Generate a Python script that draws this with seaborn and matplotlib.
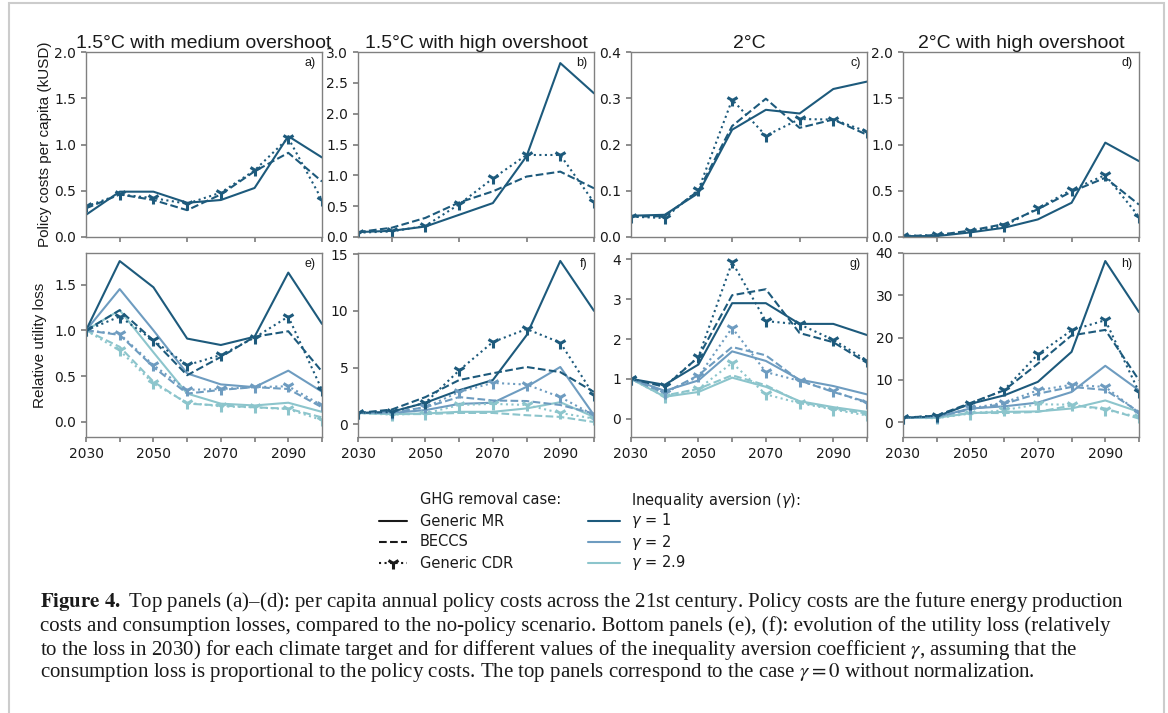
import numpy as np
import pandas as pd
import seaborn as sns
import matplotlib
matplotlib.use("Agg")
import matplotlib.pyplot as plt
from matplotlib.lines import Line2D
from matplotlib.patches import Rectangle

# ---------------- data ----------------
years = [2030, 2040, 2050, 2060, 2070, 2080, 2090, 2100]
cases = ["Generic MR", "BECCS", "Generic CDR"]
gammas = [r"$\gamma$ = 1", r"$\gamma$ = 2", r"$\gamma$ = 2.9"]
titles = ["1.5°C with medium overshoot", "1.5°C with high overshoot", "2°C", "2°C with high overshoot"]
top_tags = ["a)", "b)", "c)", "d)"]
bot_tags = ["e)", "f)", "g)", "h)"]

# top row: policy costs per capita (kUSD), gamma = 0
a_mr = [0.24, 0.49, 0.49, 0.37, 0.40, 0.53, 1.09, 0.86]
a_beccs = [0.31, 0.46, 0.40, 0.29, 0.46, 0.71, 0.91, 0.60]
a_cdr = [0.33, 0.46, 0.42, 0.36, 0.48, 0.72, 1.07, 0.40]

b_mr = [0.08, 0.10, 0.17, 0.36, 0.55, 1.31, 2.82, 2.33]
b_beccs = [0.08, 0.15, 0.31, 0.56, 0.74, 0.98, 1.06, 0.79]
b_cdr = [0.07, 0.09, 0.18, 0.53, 0.95, 1.33, 1.33, 0.56]

c_mr = [0.046, 0.048, 0.095, 0.232, 0.275, 0.267, 0.320, 0.336]
c_beccs = [0.044, 0.045, 0.100, 0.240, 0.299, 0.236, 0.254, 0.221]
c_cdr = [0.044, 0.041, 0.102, 0.297, 0.219, 0.255, 0.254, 0.228]

d_mr = [0.01, 0.01, 0.05, 0.10, 0.19, 0.37, 1.02, 0.82]
d_beccs = [0.01, 0.02, 0.07, 0.14, 0.30, 0.49, 0.64, 0.35]
d_cdr = [0.01, 0.02, 0.06, 0.12, 0.31, 0.51, 0.67, 0.22]

# bottom row: relative utility loss, one list per gamma (1, 2, 2.9)
e_mr = [[1.0, 1.756, 1.47, 0.91, 0.84, 0.93, 1.63, 1.07],
        [1.0, 1.45, 1.00, 0.53, 0.41, 0.38, 0.56, 0.33],
        [1.0, 1.22, 0.76, 0.31, 0.20, 0.18, 0.21, 0.11]]
e_beccs = [[1.0, 1.22, 0.89, 0.51, 0.71, 0.93, 0.99, 0.55],
           [1.0, 0.95, 0.60, 0.31, 0.35, 0.38, 0.36, 0.16],
           [1.0, 0.82, 0.44, 0.20, 0.18, 0.16, 0.145, 0.05]]
e_cdr = [[1.0, 1.15, 0.89, 0.62, 0.73, 0.92, 1.15, 0.35],
         [1.0, 0.96, 0.62, 0.35, 0.36, 0.38, 0.39, 0.18],
         [1.0, 0.78, 0.42, 0.21, 0.17, 0.16, 0.14, 0.02]]

f_mr = [[1.0, 1.1, 1.9, 3.0, 3.9, 7.85, 14.4, 10.0],
        [1.0, 1.0, 1.25, 1.8, 1.9, 3.3, 5.05, 0.8],
        [1.0, 0.9, 0.95, 1.1, 1.1, 1.4, 1.95, 0.65]]
f_beccs = [[1.0, 1.3, 2.4, 3.9, 4.5, 5.05, 4.6, 2.85],
           [1.0, 1.05, 1.5, 2.4, 2.1, 2.05, 1.7, 0.95],
           [1.0, 0.9, 0.9, 1.0, 1.0, 0.8, 0.65, 0.2]]
f_cdr = [[1.0, 1.1, 1.9, 4.75, 7.25, 8.4, 7.2, 2.55],
         [1.0, 1.0, 1.5, 2.85, 3.65, 3.5, 2.4, 0.8],
         [1.0, 0.85, 0.95, 1.7, 1.8, 1.7, 1.0, 0.5]]

g_mr = [[1.0, 0.85, 1.36, 2.9, 2.9, 2.38, 2.38, 2.1],
        [1.0, 0.70, 0.96, 1.69, 1.45, 0.98, 0.82, 0.61],
        [1.0, 0.55, 0.67, 1.03, 0.80, 0.44, 0.29, 0.17]]
g_beccs = [[1.0, 0.80, 1.55, 3.1, 3.25, 2.15, 1.92, 1.4],
           [1.0, 0.65, 1.09, 1.8, 1.59, 0.96, 0.67, 0.42],
           [1.0, 0.58, 0.75, 1.09, 0.84, 0.42, 0.25, 0.13]]
g_cdr = [[1.0, 0.81, 1.55, 3.93, 2.45, 2.37, 1.98, 1.46],
         [1.0, 0.65, 1.06, 2.28, 1.17, 0.95, 0.69, 0.39],
         [1.0, 0.55, 0.75, 1.40, 0.61, 0.39, 0.23, 0.08]]

h_mr = [[1.0, 1.3, 4.3, 6.3, 9.5, 16.6, 38.1, 26.0],
        [1.0, 1.2, 3.2, 3.7, 4.6, 7.1, 13.3, 7.5],
        [1.0, 1.0, 2.1, 2.4, 2.5, 3.2, 5.1, 2.4]]
h_beccs = [[1.0, 1.5, 4.5, 7.5, 13.8, 20.5, 21.8, 9.9],
           [1.0, 1.2, 3.0, 4.3, 6.7, 8.3, 7.6, 2.4],
           [1.0, 1.0, 2.2, 2.1, 2.4, 3.9, 3.2, 0.8]]
h_cdr = [[1.0, 1.5, 4.3, 7.6, 16.0, 21.7, 24.1, 7.1],
         [1.0, 1.2, 3.2, 4.6, 7.5, 8.8, 8.3, 2.2],
         [1.0, 0.9, 2.0, 2.8, 4.2, 4.1, 2.9, 1.2]]

top_data = [(a_mr, a_beccs, a_cdr), (b_mr, b_beccs, b_cdr),
            (c_mr, c_beccs, c_cdr), (d_mr, d_beccs, d_cdr)]
bot_data = [(e_mr, e_beccs, e_cdr), (f_mr, f_beccs, f_cdr),
            (g_mr, g_beccs, g_cdr), (h_mr, h_beccs, h_cdr)]

top_ylims = [(0, 2.0), (0, 3.0), (0, 0.4), (0, 2.0)]
top_yticks = [[0, 0.5, 1.0, 1.5, 2.0], [0, 0.5, 1.0, 1.5, 2.0, 2.5, 3.0],
              [0, 0.1, 0.2, 0.3, 0.4], [0, 0.5, 1.0, 1.5, 2.0]]
bot_ylims = [(-0.164, 1.844), (-1.12, 15.1), (-0.46, 4.16), (-3.55, 40.0)]
bot_yticks = [[0, 0.5, 1.0, 1.5], [0, 5, 10, 15], [0, 1, 2, 3, 4], [0, 10, 20, 30, 40]]
bot_fmt = ["{:.1f}", "{:.0f}", "{:.0f}", "{:.0f}"]

# ---------------- style ----------------
dark, mid, light = "#1d5a7c", "#6e9cc0", "#8cc5cc"
pal = {gammas[0]: dark, gammas[1]: mid, gammas[2]: light}
linestyles = {"Generic MR": "-", "BECCS": "--", "Generic CDR": ":"}
MK, MS, MEW = "1", 9, 2.2

sns.set_theme(style="ticks")
plt.rcParams["font.family"] = ["DejaVu Sans"]
plt.rcParams.update({
    "axes.edgecolor": "#808080",
    "axes.linewidth": 1.0,
    "xtick.color": "#808080",
    "ytick.color": "#808080",
    "xtick.labelcolor": "#1a1a1a",
    "ytick.labelcolor": "#1a1a1a",
    "xtick.labelsize": 10,
    "ytick.labelsize": 10,
    "xtick.major.size": 3.5,
    "ytick.major.size": 3.5,
})

W, H = 1168, 713
fig = plt.figure(figsize=(W / 100, H / 100), dpi=100)
fig.patch.set_facecolor("white")

lefts = [86, 358, 631, 903]
axw = 236
top_row = (52, 237)
bot_row = (253, 437)


def mk_ax(left, row):
    t, b = row
    return fig.add_axes([left / W, 1 - b / H, axw / W, (b - t) / H])


def add_markers(ax, n_before):
    for ln in ax.lines[n_before:]:
        ln.set_marker(MK)
        ln.set_markersize(MS)
        ln.set_markeredgewidth(MEW)
        ln.set_markeredgecolor(ln.get_color())


lw = 1.5
for i in range(4):
    # ---- top panel ----
    ax = mk_ax(lefts[i], top_row)
    for case, vals in zip(cases, top_data[i]):
        df = pd.DataFrame({"year": years, "value": vals})
        n0 = len(ax.lines)
        sns.lineplot(data=df, x="year", y="value", ax=ax, color=dark, lw=lw,
                     errorbar=None, linestyle=linestyles[case])
        if case == "Generic CDR":
            add_markers(ax, n0)
    ax.set_xlim(2030, 2100)
    ax.set_ylim(*top_ylims[i])
    ax.set_yticks(top_yticks[i])
    ax.set_yticklabels(["{:.1f}".format(v) for v in top_yticks[i]])
    ax.set_xticks([2040, 2060, 2080, 2100])
    ax.set_xticklabels([])
    ax.set_xlabel("")
    ax.set_ylabel("")
    ax.set_title(titles[i], fontsize=14, family="Liberation Sans", color="#1a1a1a", pad=3)
    ax.text(0.972, 0.972, top_tags[i], transform=ax.transAxes, ha="right", va="top",
            fontsize=9, family="Liberation Sans", color="#1a1a1a")
    if i == 0:
        ax.set_ylabel("Policy costs per capita (kUSD)", fontsize=11,
                      family="Liberation Sans", color="#1a1a1a")
        ax.yaxis.set_label_coords(-0.145, 0.5)

    # ---- bottom panel ----
    ax = mk_ax(lefts[i], bot_row)
    for case, vals in zip(cases, bot_data[i]):
        rows = []
        for g, series in zip(gammas, vals):
            for yr, v in zip(years, series):
                rows.append({"year": yr, "value": v, "gamma": g})
        df = pd.DataFrame(rows)
        n0 = len(ax.lines)
        sns.lineplot(data=df, x="year", y="value", hue="gamma", hue_order=gammas[::-1],
                     palette=pal, ax=ax, lw=lw, errorbar=None, legend=False,
                     linestyle=linestyles[case])
        if case == "Generic CDR":
            add_markers(ax, n0)
    ax.set_xlim(2030, 2100)
    ax.set_ylim(*bot_ylims[i])
    ax.set_yticks(bot_yticks[i])
    ax.set_yticklabels([bot_fmt[i].format(v) for v in bot_yticks[i]])
    xt = list(range(2030, 2101, 10))
    ax.set_xticks(xt)
    ax.set_xticklabels([str(x) if x in (2030, 2050, 2070, 2090) else "" for x in xt])
    ax.set_xlabel("")
    ax.set_ylabel("")
    ax.text(0.972, 0.972, bot_tags[i], transform=ax.transAxes, ha="right", va="top",
            fontsize=9, family="Liberation Sans", color="#1a1a1a")
    if i == 0:
        ax.set_ylabel("Relative utility loss", fontsize=11,
                      family="Liberation Sans", color="#1a1a1a")
        ax.yaxis.set_label_coords(-0.165, 0.5)

# ---------------- legends (drawn row by row for equal spacing) ----------------
row_y = [500, 521, 542, 563]


def fx(px):
    return px / W


def fy(py):
    return 1 - py / H


# legend 1: GHG removal case
fig.text(fx(420), fy(row_y[0]), "GHG removal case:", ha="left", va="center",
         fontsize=10.5, color="#1a1a1a")
leg1_styles = [dict(ls="-"), dict(ls="--"),
               dict(ls=":", marker=MK, markersize=MS, markeredgewidth=MEW,
                    markeredgecolor="k", markevery=[1])]
for k, (case, st) in enumerate(zip(cases, leg1_styles)):
    yy = fy(row_y[k + 1])
    fig.add_artist(Line2D([fx(379), fx(393), fx(407)], [yy, yy, yy], color="k", lw=lw,
                          transform=fig.transFigure, **st))
    fig.text(fx(420), yy, case, ha="left", va="center", fontsize=10.5, color="#1a1a1a")

# legend 2: inequality aversion
fig.text(fx(631), fy(row_y[0]), r"Inequality aversion ($\gamma$):", ha="left", va="center",
         fontsize=10.5, color="#1a1a1a")
for k, g in enumerate(gammas):
    yy = fy(row_y[k + 1])
    fig.add_artist(Line2D([fx(588), fx(620)], [yy, yy], color=pal[g], lw=lw,
                          transform=fig.transFigure))
    fig.text(fx(631), yy, g, ha="left", va="center", fontsize=10.5, color="#1a1a1a")

# ---------------- caption ----------------
cap_lines = [
    r"$\mathbf{Figure\ 4.}$ Top panels (a)–(d): per capita annual policy costs across the 21st century. Policy costs are the future energy production",
    "costs and consumption losses, compared to the no-policy scenario. Bottom panels (e), (f): evolution of the utility loss (relatively",
    r"to the loss in 2030) for each climate target and for different values of the inequality aversion coefficient $\gamma$, assuming that the",
    r"consumption loss is proportional to the policy costs. The top panels correspond to the case $\gamma = 0$ without normalization.",
]
cap_y = [602, 626, 650, 673]
for line, yy in zip(cap_lines, cap_y):
    fig.text(40 / W, 1 - yy / H, line, ha="left", va="center", fontsize=15,
             family="Liberation Serif", math_fontfamily="stix", color="#1a1a1a")

# page frame
fig.add_artist(Rectangle((9 / W, -0.05), (1164 - 9) / W, 1.05 - 3 / H,
                         transform=fig.transFigure, fill=False, edgecolor="#cccccc",
                         lw=1.5))

fig.savefig("out.png", dpi=100)
